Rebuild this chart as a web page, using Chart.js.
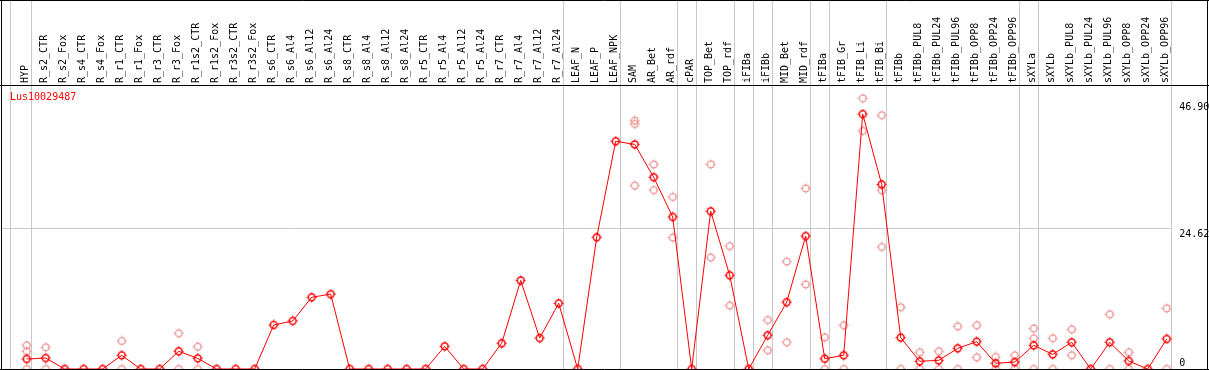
<!DOCTYPE html>
<html><head><meta charset="utf-8">
<script src="https://cdn.jsdelivr.net/npm/chart.js@4/dist/chart.umd.min.js"></script>
<style>html,body{margin:0;padding:0;background:#fff;overflow:hidden}#wrap{position:relative;width:1209px;height:370px}canvas{display:block}</style>
</head><body><div id="wrap"><canvas id="c" width="1209" height="370" style="width:1209px;height:370px"></canvas></div>
<script>
const geneName = 'Lus10029487';
const categories = ['HYP','R_s2_CTR','R_s2_Fox','R_s4_CTR','R_s4_Fox','R_r1_CTR','R_r1_Fox','R_r3_CTR','R_r3_Fox','R_r1s2_CTR','R_r1s2_Fox','R_r3s2_CTR','R_r3s2_Fox','R_s6_CTR','R_s6_Al4','R_s6_Al12','R_s6_Al24','R_s8_CTR','R_s8_Al4','R_s8_Al12','R_s8_Al24','R_r5_CTR','R_r5_Al4','R_r5_Al12','R_r5_Al24','R_r7_CTR','R_r7_Al4','R_r7_Al12','R_r7_Al24','LEAF_N','LEAF_P','LEAF_NPK','SAM','AR_Bet','AR_rdf','cPAR','TOP_Bet','TOP_rdf','iFIBa','iFIBb','MID_Bet','MID_rdf','tFIBa','tFIB_Gr','tFIB_Li','tFIB_Bi','tFIBb','tFIBb_PUL8','tFIBb_PUL24','tFIBb_PUL96','tFIBb_OPP8','tFIBb_OPP24','tFIBb_OPP96','sXYLa','sXYLb','sXYLb_PUL8','sXYLb_PUL24','sXYLb_PUL96','sXYLb_OPP8','sXYLb_OPP24','sXYLb_OPP96'];
const meanValues = [1.75,1.92,0,0,0,2.4,0,0,3.1,1.87,
  0,0,0,7.7,8.4,12.55,13.1,0,0,0,
  0,0,3.97,0,0,4.5,15.5,5.42,11.5,0,
  23.05,39.85,39.3,33.55,26.6,0,27.6,16.4,0,5.9,
  11.7,23.27,1.8,2.4,44.6,32.3,5.5,1.35,1.52,3.62,
  4.78,1.0,1.22,4.14,2.56,4.67,0,4.67,1.4,0,
  5.25];
const replicateA = [4.14,3.8,null,null,null,4.9,null,null,6.25,3.9,
  null,null,null,null,null,null,null,null,null,null,
  null,null,null,null,null,null,null,null,null,null,
  null,null,43.45,35.8,30.1,null,35.8,21.5,null,8.57,
  18.8,31.6,5.54,7.65,47.37,44.4,10.8,2.92,3.1,7.47,
  7.65,2.1,2.4,7.1,5.37,6.94,null,9.57,2.92,null,
  10.6];
const replicateB = [3.1,0,null,null,null,0,null,null,0,0,
  null,null,null,null,null,null,null,null,null,null,
  null,null,null,null,null,null,null,null,null,null,
  null,null,42.87,31.3,23.0,null,19.5,11.1,null,3.27,
  4.67,14.8,0,0,41.65,31.27,0,0,0,0,
  2.04,0,0,5.37,0,2.4,null,0,0,null,
  0];
const replicateC = [0,null,null,null,null,null,null,null,null,null,
  null,null,null,null,null,null,null,null,null,null,
  null,null,null,null,null,null,null,null,null,null,
  null,null,32.1,null,null,null,null,null,null,null,
  null,null,null,null,null,21.35,null,null,null,null,
  null,null,null,0,null,null,null,null,null,null,
  null];
const yTickValues = [0, 24.62, 46.90];
const yTickLabels = ['0', '24.62', '46.90'];
const yGridValues = [24.62];
const groupLastIndex = [0, 28, 31, 34, 35, 37, 38, 39, 41, 42, 45, 52, 53, 60];

const FONT = '"DejaVu Sans Mono", monospace';

function makeMarker(color, lw) {
  const c = document.createElement('canvas');
  c.width = 11; c.height = 11;
  const g = c.getContext('2d');
  g.strokeStyle = color; g.lineWidth = lw;
  g.beginPath(); g.arc(5.5, 5.5, 3.4, 0, Math.PI * 2); g.stroke();
  g.lineWidth = 1;
  g.beginPath();
  g.moveTo(5.5, 0.5); g.lineTo(5.5, 2.2);
  g.moveTo(5.5, 8.8); g.lineTo(5.5, 10.5);
  g.moveTo(0.5, 5.5); g.lineTo(2.2, 5.5);
  g.moveTo(8.8, 5.5); g.lineTo(10.5, 5.5);
  g.stroke();
  return c;
}
const mainMarker = makeMarker('#ff0000', 1.5);
const repMarker = makeMarker('#ee9494', 1.3);

const replicatePoints = [];
[replicateA, replicateB, replicateC].forEach(arr => {
  arr.forEach((v, i) => { if (v !== null) replicatePoints.push({x: categories[i], y: v}); });
});

const framePlugin = {
  id: 'frame',
  beforeDraw(chart) {
    const ctx = chart.ctx, xs = chart.scales.x, ys = chart.scales.y;
    ctx.save();
    ctx.fillStyle = '#fff'; ctx.fillRect(0, 0, chart.width, chart.height);
    ctx.strokeStyle = '#c8c8c8'; ctx.lineWidth = 1;
    const lastX = xs.getPixelForValue(categories.length - 1) + 4;
    yGridValues.forEach(v => {
      const y = Math.round(ys.getPixelForValue(v)) + 0.5;
      ctx.beginPath(); ctx.moveTo(1, y); ctx.lineTo(lastX, y); ctx.stroke();
    });
    const xsep = [xs.getPixelForValue(0) - 17];
    groupLastIndex.forEach(i => xsep.push(xs.getPixelForValue(i) + 4));
    xsep.forEach(px => {
      const x = Math.round(px) + 0.5;
      ctx.beginPath(); ctx.moveTo(x, 0); ctx.lineTo(x, chart.chartArea.bottom); ctx.stroke();
    });
    ctx.restore();
  },
  afterDraw(chart) {
    const ctx = chart.ctx, W = chart.width;
    const top = chart.chartArea.top, bottom = chart.chartArea.bottom;
    ctx.save();
    ctx.strokeStyle = '#000'; ctx.lineWidth = 1;
    ctx.beginPath();
    ctx.moveTo(0, 0.5); ctx.lineTo(W, 0.5);
    ctx.moveTo(0, Math.round(top) + 0.5); ctx.lineTo(W, Math.round(top) + 0.5);
    ctx.moveTo(0, Math.round(bottom) + 0.5); ctx.lineTo(W, Math.round(bottom) + 0.5);
    ctx.moveTo(1.5, 0); ctx.lineTo(1.5, bottom);
    ctx.moveTo(W - 1.5, 0); ctx.lineTo(W - 1.5, bottom);
    ctx.stroke();
    ctx.fillStyle = '#ff0000';
    ctx.font = '10px ' + FONT;
    ctx.textBaseline = 'middle'; ctx.textAlign = 'left';
    ctx.fillText(geneName, 10, top + 12);
    ctx.restore();
  }
};

new Chart(document.getElementById('c'), {
  type: 'line',
  data: {
    labels: categories,
    datasets: [
      {
        label: geneName,
        data: meanValues,
        borderColor: '#ff0000',
        borderWidth: 1,
        pointStyle: mainMarker,
        pointRadius: 5,
        tension: 0,
        fill: false,
        clip: false
      },
      {
        label: 'replicates',
        data: replicatePoints,
        showLine: false,
        borderColor: '#ee9494',
        pointStyle: repMarker,
        pointRadius: 5,
        clip: false
      }
    ]
  },
  options: {
    responsive: false,
    animation: false,
    devicePixelRatio: 1,
    layout: { autoPadding: false, padding: { left: 17.2, right: 0, top: 0, bottom: 1 } },
    plugins: { legend: { display: false }, tooltip: { enabled: false }, title: { display: false } },
    scales: {
      x: {
        type: 'category',
        position: 'top',
        offset: true,
        grid: { display: false, drawTicks: false },
        border: { display: false },
        ticks: {
          autoSkip: false,
          minRotation: 90,
          maxRotation: 90,
          padding: 2,
          labelOffset: 11,
          color: '#000',
          font: { family: FONT, size: 10 }
        },
        afterFit(s) { s.height = 85; s.paddingLeft = 0; s.paddingRight = 0; }
      },
      y: {
        type: 'linear',
        position: 'right',
        min: 0,
        max: 49.69,
        grid: { display: false, drawTicks: false },
        border: { display: false },
        afterBuildTicks(s) { s.ticks = yTickValues.map(v => ({ value: v })); },
        ticks: {
          align: 'start',
          padding: 3,
          labelOffset: 1.5,
          color: '#000',
          font: { family: FONT, size: 10 },
          callback(v) {
            const lbl = yTickLabels[yTickValues.indexOf(v)];
            return v === 0 ? [lbl, '', ''] : lbl;
          }
        },
        afterFit(s) { s.width = 32.8; s.paddingTop = 0; s.paddingBottom = 0; }
      }
    }
  },
  plugins: [framePlugin]
});
</script></body></html>
